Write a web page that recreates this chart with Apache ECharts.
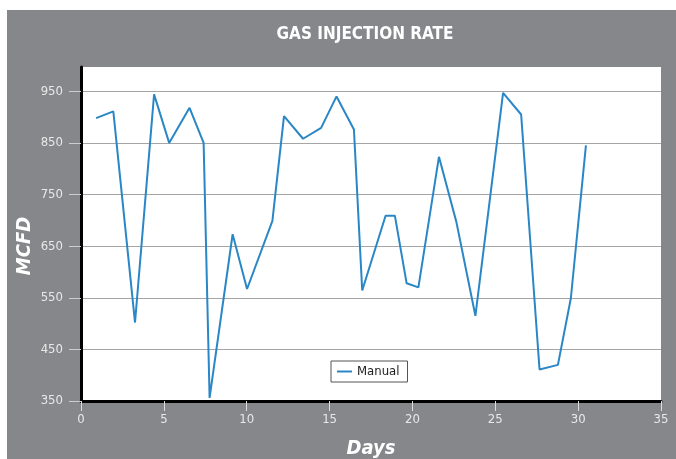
<!DOCTYPE html>
<html>
<head>
<meta charset="utf-8">
<script src="https://cdn.jsdelivr.net/npm/echarts@6/dist/echarts.min.js"></script>
<style>
  html, body { margin: 0; padding: 0; background: #fff; }
  #chart { width: 676px; height: 459px; }
</style>
</head>
<body>
<div id="chart"></div>
<script>
// 数据：天数 / 注气量
var days = [0.91, 1.95, 3.26, 4.41, 5.32, 6.55, 7.4, 7.76, 9.15, 10.02,
            11.55, 12.25, 13.4, 14.49, 15.42, 16.47, 16.97, 18.38, 18.94, 19.65,
            20.36, 21.6, 22.65, 23.8, 25.47, 26.56, 27.67, 28.78, 29.56, 30.47];
var manual = [898, 911, 502, 944, 850, 918, 850, 356, 673, 567,
              699, 902, 858, 879, 940, 876, 564, 709, 709, 578,
              570, 823, 697, 515, 947, 905, 411, 420, 549, 845];
var yTicks = [350, 450, 550, 650, 750, 850, 950];

var font = '"Liberation Sans Narrow", "DejaVu Sans Condensed", Arial, sans-serif';

var points = [];
for (var i = 0; i < days.length; i++) {
    points.push([days[i], manual[i]]);
}

var myChart = echarts.init(document.getElementById('chart'));

var option = {
    animation: false,
    backgroundColor: '#fff',
    graphic: [{
        type: 'rect',
        z: -10,
        shape: { x: 7, y: 10, width: 669, height: 449 },
        style: { fill: '#86878b' }
    }],
    title: {
        text: 'GAS INJECTION RATE',
        left: 360,
        textAlign: 'center',
        top: 21,
        textStyle: { color: '#fff', fontFamily: font, fontWeight: 'bold', fontSize: 17 }
    },
    grid: {
        left: 81, right: 15, top: 67, bottom: 58,
        outerBoundsMode: 'none',
        show: true,
        backgroundColor: '#fff',
        borderWidth: 0
    },
    legend: {
        left: 331, top: 361,
        backgroundColor: '#fff',
        borderColor: '#555',
        borderWidth: 1,
        borderRadius: 0,
        padding: [4, 8, 4, 6],
        icon: 'rect',
        itemWidth: 15,
        itemHeight: 2,
        itemGap: 10,
        textStyle: { color: '#222', fontFamily: font, fontSize: 13 },
        data: ['Manual']
    },
    xAxis: {
        type: 'value',
        min: 0, max: 35, interval: 5,
        name: 'Days',
        nameLocation: 'middle',
        nameGap: 38,
        nameMoveOverlap: false,
        nameTextStyle: { color: '#fff', fontFamily: font, fontWeight: 'bold', fontStyle: 'italic', fontSize: 20 },
        axisLine: { show: true, onZero: false, lineStyle: { color: '#000', width: 3 } },
        axisTick: { show: true, length: 10, lineStyle: { color: '#ddd', width: 1 } },
        axisLabel: { color: '#e8e8e8', fontFamily: font, fontSize: 13, margin: 12 },
        splitLine: { show: false }
    },
    yAxis: {
        type: 'value',
        min: 350, max: 997,
        name: 'MCFD',
        nameLocation: 'middle',
        nameGap: 46,
        nameMoveOverlap: false,
        nameTextStyle: {
            color: '#fff', fontFamily: font, fontWeight: 'bold', fontStyle: 'italic', fontSize: 20,
            padding: [0, 24, 0, 0]
        },
        axisLine: { show: true, onZero: false, lineStyle: { color: '#000', width: 3 } },
        axisTick: { show: true, length: 12, customValues: yTicks, lineStyle: { color: '#ccc', width: 1 } },
        axisLabel: { color: '#e8e8e8', fontFamily: font, fontSize: 13, margin: 18, customValues: yTicks },
        splitLine: { show: true, lineStyle: { color: '#a5a5a5', width: 1 } }
    },
    series: [{
        name: 'Manual',
        type: 'line',
        data: points,
        showSymbol: false,
        symbol: 'none',
        color: '#2a87c6',
        lineStyle: { color: '#2a87c6', width: 2 }
    }]
};
myChart.setOption(option);
</script>
</body>
</html>
